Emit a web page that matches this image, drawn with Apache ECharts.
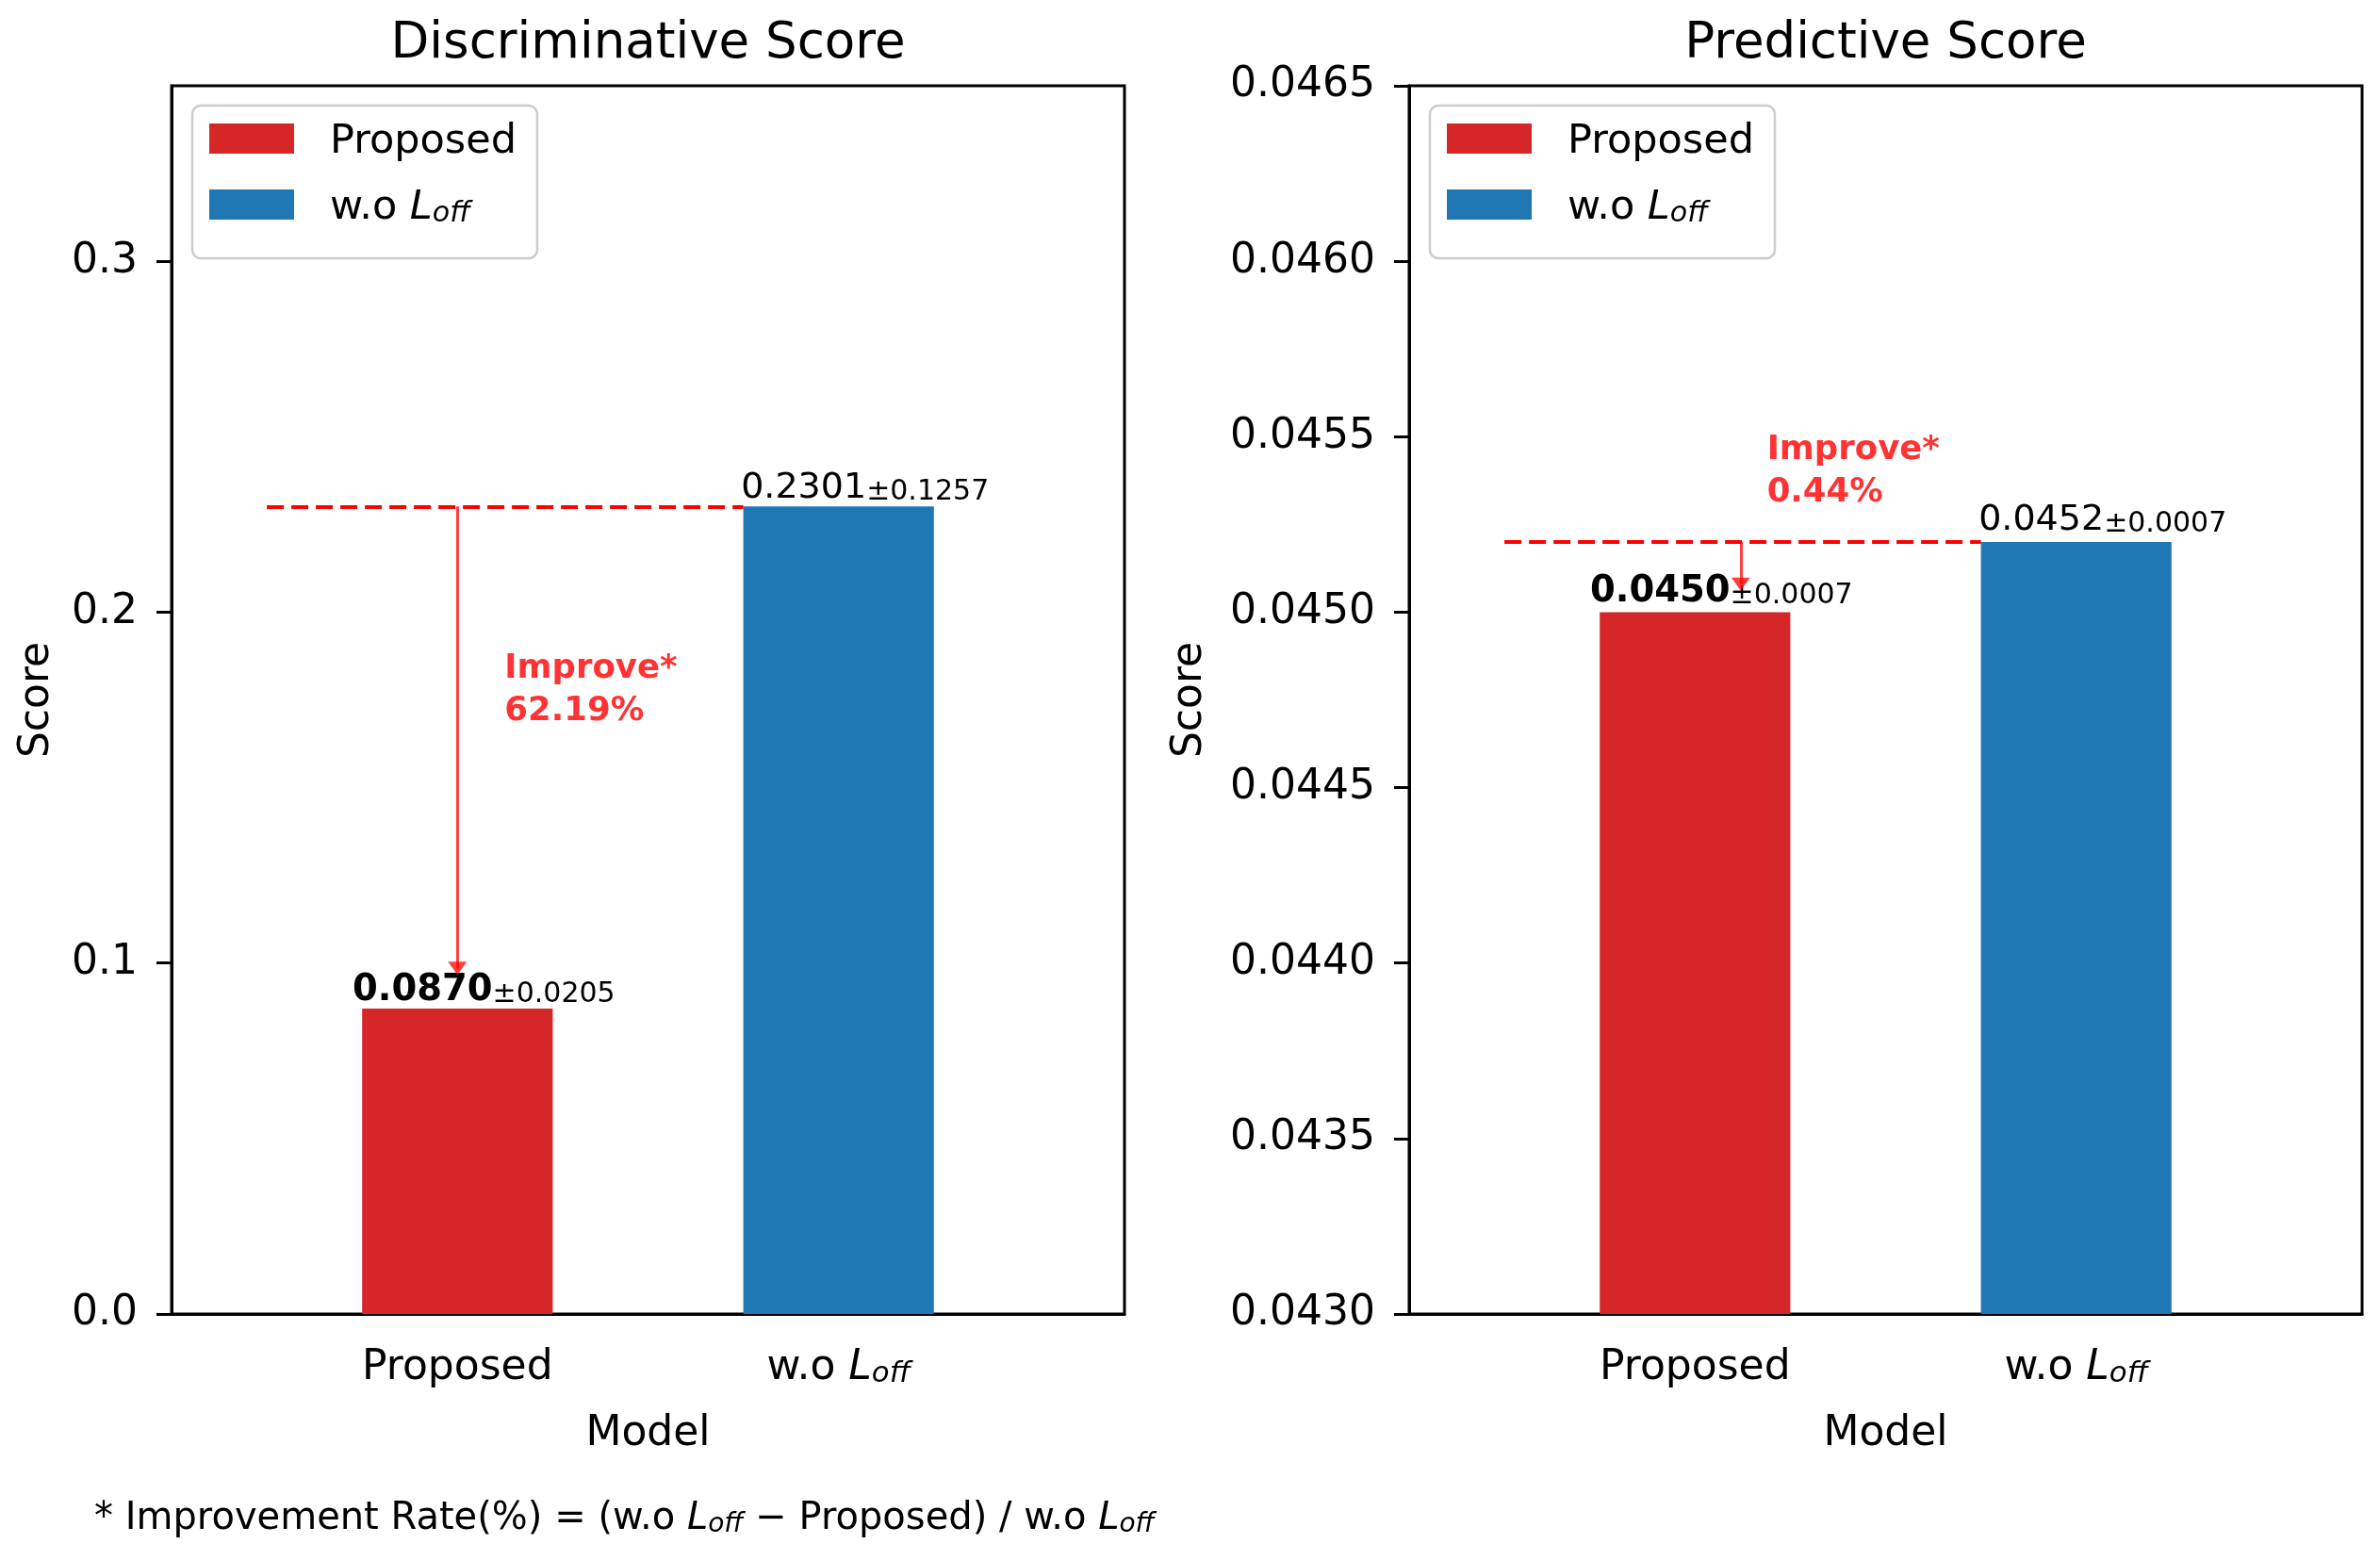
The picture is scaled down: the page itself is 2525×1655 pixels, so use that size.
<!DOCTYPE html>
<html><head><meta charset="utf-8">
<script src="https://cdn.jsdelivr.net/npm/echarts@6/dist/echarts.min.js"></script>
<style>html,body{margin:0;padding:0;background:#fff}#chart{width:2525px;height:1655px}</style>
</head><body><div id="chart"></div>
<script>
const categories = ['Proposed', 'w.o L_off'];
const discMean = [0.0870, 0.2301];
const discStd = [0.0205, 0.1257];
const predMean = [0.0450, 0.0452];
const predStd = [0.0007, 0.0007];
const discTicks = [0.0, 0.1, 0.2, 0.3];
const predTicks = [0.0430, 0.0435, 0.0440, 0.0445, 0.0450, 0.0455, 0.0460, 0.0465];
const improveText = ['62.19%', '0.44%'];
const improveAt = [[0.125, 0.1776], [0.19, 0.04540]];
const arrowX = [0, 0.12];
const arrowEnd = [0.0985, 0.04508];
const colors = ['#d62728', '#1f77b4'];
const FONT = 'DejaVu Sans';

const slots = [' ', categories[0], '  ', categories[1], '   '];
function slotData(means, i) { return slots.map((s, k) => k === 2 * i + 1 ? means[i] : null); }

function mathRich(fs) {
  return {
    n: {fontSize: fs, fontFamily: FONT, fontWeight: 'normal', color: '#000', lineHeight: fs * 0.7, verticalAlign: 'bottom'},
    i: {fontSize: fs, fontFamily: FONT, fontWeight: 'normal', fontStyle: 'italic', color: '#000', lineHeight: fs * 0.7, verticalAlign: 'bottom'},
    sub: {fontSize: fs * 0.7, fontFamily: FONT, fontWeight: 'normal', fontStyle: 'italic', color: '#000', lineHeight: fs * 0.13, verticalAlign: 'bottom'}
  };
}
function mathFmt(name) {
  if (name === categories[1]) return '{n|w.o }{i|L}{sub|off}';
  return '{n|' + name + '}';
}

function barSeries(i, means, stds, xi, yi, dist) {
  return {
    type: 'bar', name: categories[i], xAxisIndex: xi, yAxisIndex: yi,
    data: slotData(means, i), barWidth: '100%', barGap: '-100%',
    itemStyle: {color: colors[i]},
    label: {
      show: true, position: 'top', distance: dist, offset: [28, 0],
      formatter: () => '{' + (i === 0 ? 'b' : 'v') + '|' + means[i].toFixed(4) + '}{s|±' + stds[i].toFixed(4) + '}',
      rich: {
        b: {fontSize: 38.5, fontWeight: 'bold', fontFamily: FONT, color: '#000', lineHeight: 27, verticalAlign: 'bottom'},
        v: {fontSize: 38, fontFamily: FONT, color: '#000', lineHeight: 27, verticalAlign: 'bottom'},
        s: {fontSize: 30, fontFamily: FONT, color: '#000', lineHeight: 21, verticalAlign: 'bottom'}
      }
    }
  };
}

function annot(xi, yi, means, k) {
  return [{
    type: 'line', xAxisIndex: xi, yAxisIndex: yi, data: [], silent: true,
    markLine: {
      silent: true, animation: false, label: {show: false},
      data: [
        [{coord: [-0.5, means[1]], symbol: 'none', lineStyle: {type: [18, 8], color: '#ff0000', width: 4}},
         {coord: [0.75, means[1]], symbol: 'none'}],
        [{coord: [arrowX[k], means[1]], symbol: 'none', lineStyle: {type: 'solid', color: 'rgba(255,0,0,0.75)', width: 3}},
         {coord: [arrowX[k], arrowEnd[k]], symbol: 'triangle', symbolSize: [20, 14]}]
      ]
    }
  }, {
    type: 'scatter', xAxisIndex: xi, yAxisIndex: yi, data: [improveAt[k]], symbolSize: 1, silent: true,
    itemStyle: {color: 'transparent'},
    label: {show: true, position: [0, 0], align: 'left', verticalAlign: 'middle',
      formatter: 'Improve*\n' + improveText[k], color: '#ff0000', fontWeight: 'bold',
      fontSize: 35.5, lineHeight: 45, fontFamily: FONT}
  }];
}

const gridLefts = [182, 1495];
const titles = ['Discriminative Score', 'Predictive Score'];

const option = {
  animation: false,
  backgroundColor: '#fff',
  title: [
    ...titles.map((t, g) => ({text: t, left: gridLefts[g] + 505.5, top: 21, textAlign: 'center', padding: 0,
      textStyle: {fontSize: 53, fontWeight: 'normal', fontFamily: FONT, color: '#000'}})),
    {text: '{n|* Improvement Rate(%) = (w.o }{i|L}{sub|off}{n| − Proposed) / w.o }{i|L}{sub|off}',
     left: 100, top: 1604, padding: 0, textStyle: {fontWeight: 'normal', rich: mathRich(40)}}
  ],
  legend: [0, 1].map(g => ({
    left: g === 0 ? 204 : 1517, top: 112, orient: 'vertical',
    data: categories, itemWidth: 90, itemHeight: 32, itemGap: 27,
    padding: [17, 22, 32, 18],
    backgroundColor: 'rgba(255,255,255,0.8)', borderColor: '#cccccc', borderWidth: 2.5, borderRadius: 9,
    icon: 'rect', formatter: mathFmt, selectedMode: false,
    textStyle: {fontSize: 43, fontFamily: FONT, color: '#000', padding: [20, 0, 0, 33], rich: mathRich(43)}
  })),
  grid: gridLefts.map(l => ({left: l, top: 91, width: 1011, height: 1303, show: true, borderColor: '#000', borderWidth: 3, containLabel: false})),
  xAxis: [0, 1].flatMap(g => [
    {type: 'category', gridIndex: g, data: slots, boundaryGap: true,
     axisLine: {lineStyle: {color: '#000', width: 3}},
     axisTick: {alignWithLabel: true, interval: (idx) => idx === 1 || idx === 3, length: 16, lineStyle: {color: '#000', width: 3}},
     axisLabel: {interval: 0, margin: 49, formatter: v => v.trim() ? mathFmt(v) : '', rich: mathRich(44)},
     name: 'Model', nameLocation: 'middle', nameGap: 106,
     nameTextStyle: {fontSize: 44, fontFamily: FONT, color: '#000'},
     splitLine: {show: false}},
    {type: 'value', gridIndex: g, min: -0.75, max: 1.75, show: false}
  ]),
  yAxis: [
    {type: 'value', gridIndex: 0, min: 0, max: 0.35,
     axisLine: {show: true, onZero: false, lineStyle: {color: '#000', width: 3}},
     axisTick: {show: true, length: 16, customValues: discTicks, lineStyle: {color: '#000', width: 3}},
     axisLabel: {customValues: discTicks, formatter: v => v.toFixed(1), fontSize: 44, fontFamily: FONT, color: '#000', margin: 36},
     splitLine: {show: false},
     name: 'Score', nameLocation: 'middle', nameGap: 120,
     nameTextStyle: {fontSize: 44, fontFamily: FONT, color: '#000'}},
    {type: 'value', gridIndex: 1, min: 0.043, max: 0.0465,
     axisLine: {show: true, onZero: false, lineStyle: {color: '#000', width: 3}},
     axisTick: {show: true, length: 16, customValues: predTicks, lineStyle: {color: '#000', width: 3}},
     axisLabel: {customValues: predTicks, formatter: v => v.toFixed(4), fontSize: 44, fontFamily: FONT, color: '#000', margin: 36},
     splitLine: {show: false},
     name: 'Score', nameLocation: 'middle', nameGap: 210,
     nameTextStyle: {fontSize: 44, fontFamily: FONT, color: '#000'}}
  ],
  series: [
    barSeries(0, discMean, discStd, 0, 0, 0),
    barSeries(1, discMean, discStd, 0, 0, 0),
    barSeries(0, predMean, predStd, 2, 1, 2),
    barSeries(1, predMean, predStd, 2, 1, 4),
    ...annot(1, 0, discMean, 0),
    ...annot(3, 1, predMean, 1)
  ]
};

const chart = echarts.init(document.getElementById('chart'), null, {renderer: 'canvas'});
chart.setOption(option);
</script>
</body></html>
